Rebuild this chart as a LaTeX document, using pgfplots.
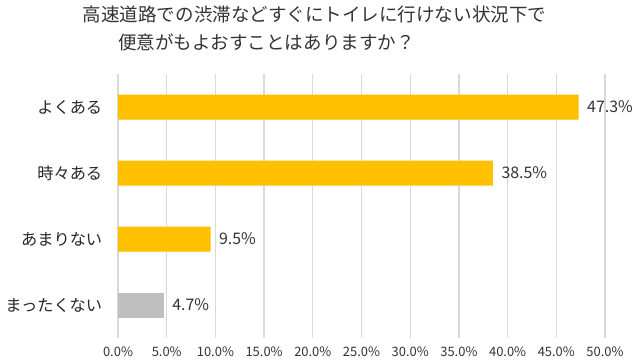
\documentclass[border=0pt]{standalone}
\usepackage{fontspec}
\setmainfont{Noto Sans CJK JP}
\usepackage{pgfplots}
\pgfplotsset{compat=1.18}
\definecolor{bary}{HTML}{FFC000}
\definecolor{barg}{HTML}{BFBFBF}
\definecolor{gridc}{HTML}{D9D9D9}
\definecolor{txt}{HTML}{333333}
\begin{document}
\begin{tikzpicture}[x=1bp,y=1bp]
\useasboundingbox (0,0) rectangle (639,360);
\node[text=txt,font=\fontsize{18.6}{22}\selectfont] at (314.5,345) {高速道路での渋滞などすぐにトイレに行けない状況下で};
\node[text=txt,font=\fontsize{18.6}{22}\selectfont,anchor=west,inner sep=0pt] at (118,318) {便意がもよおすことはありますか？};
\begin{axis}[
  at={(118bp,22bp)}, anchor=south west,
  scale only axis, width=487bp, height=264bp,
  xmin=0, xmax=50, ymin=-0.5, ymax=3.5,
  axis line style={draw=none},
  tick style={draw=none},
  xmajorgrids, grid style={color=gridc, line width=1.3bp},
  xtick={0,5,...,50},
  xticklabel={\pgfmathprintnumber[fixed,fixed zerofill,precision=1]{\tick}\%},
  /pgf/number format/assume math mode=true,
  xticklabel style={font=\fontsize{13}{15}\selectfont, text=txt, yshift=-5bp},
  ytick={0,1,2,3},
  yticklabels={まったくない,あまりない,時々ある,よくある},
  yticklabel style={font=\fontsize{16.3}{19}\selectfont, text=black!85, xshift=-8bp},
  xbar, bar width=25bp, bar shift=0pt,
  nodes near coords={\pgfmathprintnumber[fixed,fixed zerofill,precision=1]{\pgfplotspointmeta}\%},
  nodes near coords style={font=\fontsize{16}{19}\selectfont, text=txt, xshift=5bp},
]
\addplot[fill=bary, draw=none] coordinates {(9.5,1) (38.5,2) (47.3,3)};
\addplot[fill=barg, draw=none] coordinates {(4.7,0)};
\end{axis}
\end{tikzpicture}
\end{document}
